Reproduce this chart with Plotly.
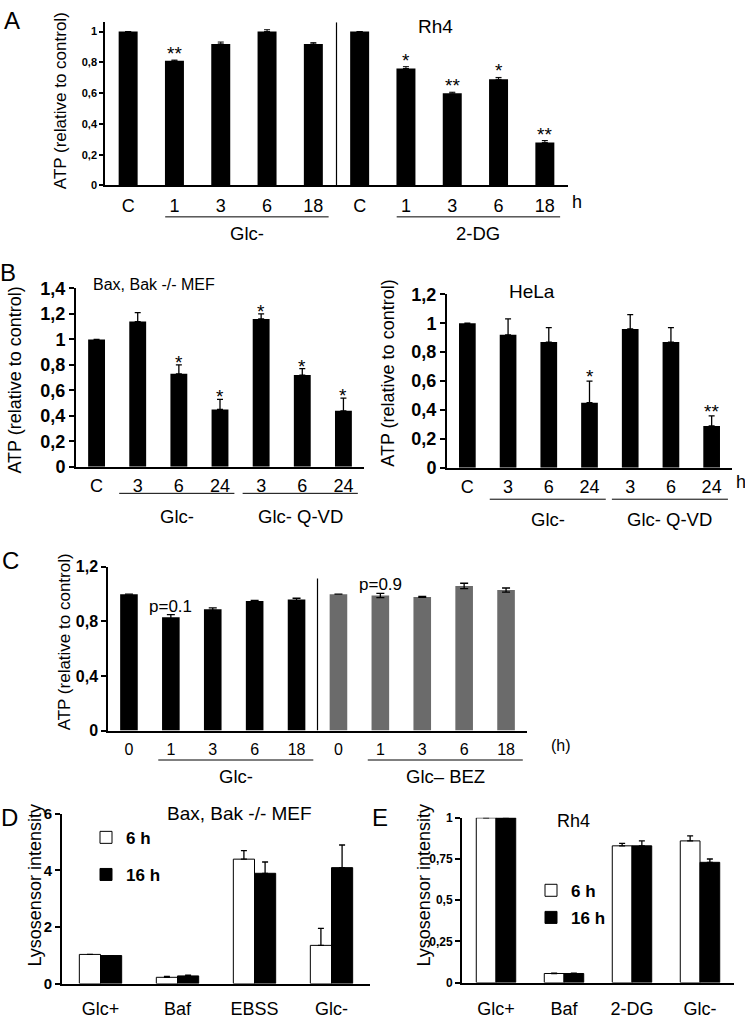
import plotly.graph_objects as go

FONT = "Liberation Sans, Arial, Helvetica, sans-serif"
W, H = 745, 1020

# ---------------- data ----------------
# Panel A (Rh4)
a_labels = ["C", "1", "3", "6", "18", "C", "1", "3", "6", "18"]
a_values = [1.0, 0.81, 0.92, 1.0, 0.92, 1.0, 0.76, 0.60, 0.69, 0.28]
a_errors = [0, 0.005, 0.012, 0.012, 0.008, 0, 0.012, 0.006, 0.012, 0.012]
a_stars = ["", "**", "", "", "", "", "*", "**", "*", "**"]
a_group_names = ["Glc-", "2-DG"]
a_group_first = [1, 6]
a_group_last = [4, 9]

# Panel B left (Bax, Bak -/- MEF)
b_labels = ["C", "3", "6", "24", "3", "6", "24"]
bl_values = [1.0, 1.14, 0.73, 0.45, 1.16, 0.72, 0.44]
bl_errors = [0, 0.07, 0.07, 0.08, 0.04, 0.05, 0.10]
bl_stars = ["", "", "*", "*", "*", "*", "*"]

# Panel B right (HeLa)
br_values = [1.0, 0.92, 0.87, 0.45, 0.96, 0.87, 0.29]
br_errors = [0, 0.11, 0.10, 0.15, 0.10, 0.10, 0.07]
br_stars = ["", "", "", "*", "", "", "**"]
b_group_names = ["Glc-", "Glc- Q-VD"]
b_group_first = [1, 4]
b_group_last = [3, 6]

# Panel C
c_labels = ["0", "1", "3", "6", "18", "0", "1", "3", "6", "18"]
c_values = [1.0, 0.83, 0.89, 0.95, 0.96, 1.0, 0.99, 0.98, 1.06, 1.03]
c_errors = [None, 0.02, 0.01, 0.005, 0.01, None, 0.015, 0.003, 0.02, 0.015]
c_group_names = ["Glc-", "Glc\u2013 BEZ"]
c_group_first = [1, 6]
c_group_last = [4, 9]
c_pvalues = ["p=0.1", "p=0.9"]
c_pvalue_at = [1, 6]

# Panel D
d_cats = ["Glc+", "Baf", "EBSS", "Glc-"]
d_6h = [1.03, 0.22, 4.40, 1.35]
d_6h_err = [0, 0.03, 0.30, 0.60]
d_16h = [0.99, 0.27, 3.90, 4.10]
d_16h_err = [0, 0.03, 0.40, 0.80]

# Panel E
e_cats = ["Glc+", "Baf", "2-DG", "Glc-"]
e_6h = [1.0, 0.055, 0.83, 0.86]
e_6h_err = [0, 0.002, 0.015, 0.03]
e_16h = [1.0, 0.055, 0.83, 0.73]
e_16h_err = [0, 0.002, 0.03, 0.02]

# ---------------- helpers ----------------
def xdom(l, r):
    return [l / W, r / W]

def ydom(bottom, top):
    return [1 - bottom / H, 1 - top / H]

def py(p):
    return 1 - p / H

def pxx(p):
    return p / W

BLACK = "black"
GRAY = "#6b6b6b"

fig = go.Figure()

def ebar(arr, sym=False, width=3, thick=1):
    d = dict(type="data", array=arr, color=BLACK, thickness=thick, width=width, visible=True)
    if not sym:
        d["symmetric"] = False
        d["arrayminus"] = [0] * len(arr)
    return d

# A
fig.add_trace(go.Bar(x=list(range(len(a_labels))), y=a_values, width=0.41,
                     marker=dict(color=BLACK, line=dict(width=0)),
                     error_y=ebar(a_errors, width=3), xaxis="x", yaxis="y", showlegend=False))
# B left
fig.add_trace(go.Bar(x=list(range(len(b_labels))), y=bl_values, width=0.41,
                     marker=dict(color=BLACK, line=dict(width=0)),
                     error_y=ebar(bl_errors, width=3, thick=1.3), xaxis="x2", yaxis="y2", showlegend=False))
# B right
fig.add_trace(go.Bar(x=list(range(len(b_labels))), y=br_values, width=0.41,
                     marker=dict(color=BLACK, line=dict(width=0)),
                     error_y=ebar(br_errors, width=3, thick=1.3), xaxis="x3", yaxis="y3", showlegend=False))
# C
c_colors = [BLACK] * 5 + [GRAY] * 5
fig.add_trace(go.Bar(x=list(range(len(c_labels))), y=c_values, width=0.42,
                     marker=dict(color=c_colors, line=dict(width=0)),
                     error_y=ebar(c_errors, sym=True, width=4, thick=1.3), xaxis="x4", yaxis="y4", showlegend=False))
# D
fig.add_trace(go.Bar(x=list(range(len(d_cats))), y=d_6h, width=0.275, offset=-0.275, name="6 h",
                     marker=dict(color="white", line=dict(color=BLACK, width=1)),
                     error_y=ebar(d_6h_err, width=3, thick=1.3), xaxis="x5", yaxis="y5",
                     legend="legend", legendgroup="d6"))
fig.add_trace(go.Bar(x=list(range(len(d_cats))), y=d_16h, width=0.275, offset=0, name="16 h",
                     marker=dict(color=BLACK, line=dict(color=BLACK, width=1)),
                     error_y=ebar(d_16h_err, width=3, thick=1.3), xaxis="x5", yaxis="y5",
                     legend="legend", legendgroup="d16"))
# E
fig.add_trace(go.Bar(x=list(range(len(e_cats))), y=e_6h, width=0.29, offset=-0.29, name="6 h",
                     marker=dict(color="white", line=dict(color=BLACK, width=1)),
                     error_y=ebar(e_6h_err, width=3, thick=1.3), xaxis="x6", yaxis="y6",
                     legend="legend2", legendgroup="e6"))
fig.add_trace(go.Bar(x=list(range(len(e_cats))), y=e_16h, width=0.29, offset=0, name="16 h",
                     marker=dict(color=BLACK, line=dict(color=BLACK, width=1)),
                     error_y=ebar(e_16h_err, width=3, thick=1.3), xaxis="x6", yaxis="y6",
                     legend="legend2", legendgroup="e16"))

def xaxis(dom, n, labels, yanchor, size, lw=1.5, gap=0):
    # invisible outside ticks are used only to push the tick labels down
    return dict(domain=dom, range=[-0.5, n - 0.5], anchor=yanchor, showgrid=False, zeroline=False,
                showline=True, linecolor=BLACK, linewidth=lw,
                ticks="outside", ticklen=gap, tickcolor="rgba(0,0,0,0)",
                tickmode="array", tickvals=list(range(n)), ticktext=labels,
                tickfont=dict(family=FONT, size=size, color=BLACK),
                fixedrange=True)

def yaxis(dom, rng, dtick, xanchor, size, bold, lw=1.5, ticklen=5):
    return dict(domain=dom, range=list(rng), anchor=xanchor, showgrid=False, zeroline=False,
                showline=True, linecolor=BLACK, linewidth=lw, ticks="outside", ticklen=ticklen,
                tickwidth=lw, tickcolor=BLACK, dtick=dtick, tick0=0,
                tickfont=dict(family=FONT, size=size, color=BLACK, weight="bold" if bold else "normal"),
                fixedrange=True)

layout = dict(
    width=W, height=H, margin=dict(l=0, r=0, t=0, b=0),
    paper_bgcolor="white", plot_bgcolor="rgba(0,0,0,0)",
    separators=",.", barmode="overlay", showlegend=True,
    font=dict(family=FONT, color=BLACK),
    xaxis=xaxis(xdom(105, 568), len(a_labels), a_labels, "y", 18, lw=1.5, gap=3),
    yaxis=yaxis(ydom(179, 12.6), (0, 1.06), 0.2, "x", 11, True, lw=1.5, ticklen=4),
    xaxis2=xaxis(xdom(76, 364), len(b_labels), b_labels, "y2", 18, lw=2, gap=2),
    yaxis2=yaxis(ydom(466, 284), (0, 1.4), 0.2, "x2", 18, True, lw=2),
    xaxis3=xaxis(xdom(447, 732), len(b_labels), b_labels, "y3", 18, lw=2, gap=2),
    yaxis3=yaxis(ydom(467, 290), (0, 1.2), 0.2, "x3", 18, True, lw=2),
    xaxis4=xaxis(xdom(108, 527), len(c_labels), c_labels, "y4", 16, lw=1.5, gap=3),
    yaxis4=yaxis(ydom(735, 568), (0, 1.2), 0.4, "x4", 16, True, lw=1.5),
    xaxis5=xaxis(xdom(62, 370), len(d_cats), d_cats, "y5", 18, lw=2, gap=8),
    yaxis5=yaxis(ydom(993, 820), (0, 6), 2, "x5", 15, True, lw=2),
    xaxis6=xaxis(xdom(462, 734), len(e_cats), e_cats, "y6", 18, lw=2, gap=9),
    yaxis6=yaxis(ydom(992, 824), (0, 1), 0.25, "x6", 12, True, lw=2),
    legend=dict(x=pxx(86), y=py(826), xanchor="left", yanchor="top", bgcolor="rgba(0,0,0,0)",
                font=dict(family=FONT, size=17, color=BLACK, weight="bold"), tracegroupgap=12,
                itemclick=False, itemdoubleclick=False),
    legend2=dict(x=pxx(531), y=py(880), xanchor="left", yanchor="top", bgcolor="rgba(0,0,0,0)",
                 font=dict(family=FONT, size=17, color=BLACK, weight="bold"), tracegroupgap=2,
                 itemclick=False, itemdoubleclick=False),
)
fig.update_layout(**layout)

annotations = []
shapes = []

def txt(x, y, text, size, xref="paper", yref="paper", xanchor="center", yanchor="middle",
        angle=0, bold=False, yshift=0):
    annotations.append(dict(x=x, y=y, xref=xref, yref=yref, text=text, showarrow=False,
                            xanchor=xanchor, yanchor=yanchor, textangle=angle, yshift=yshift,
                            font=dict(family=FONT, size=size, color=BLACK,
                                      weight="bold" if bold else "normal")))

# panel letters
txt(pxx(12), py(11), "A", 24)
txt(pxx(8), py(268), "B", 24)
txt(pxx(10), py(562), "C", 24)
txt(pxx(9), py(824), "D", 24)
txt(pxx(380), py(824), "E", 24)

# y axis titles
txt(pxx(60), py(92), "ATP (relative to control)", 17, angle=-90)
txt(pxx(15), py(378), "ATP (relative to control)", 18, angle=-90)
txt(pxx(388), py(370), "ATP (relative to control)", 18, angle=-90)
txt(pxx(64), py(645), "ATP (relative to control)", 17, angle=-90)
txt(pxx(35), py(893), "Lysosensor intensity", 18, angle=-90)
txt(pxx(424), py(893), "Lysosensor intensity", 18, angle=-90)

# panel titles
txt(pxx(435), py(17), "Rh4", 19)
txt(pxx(154), py(280), "Bax, Bak -/- MEF", 16)
txt(pxx(532), py(287), "HeLa", 19)
txt(pxx(240), py(820), "Bax, Bak -/- MEF", 19)
txt(pxx(573), py(827), "Rh4", 18)

# hour unit labels
txt(pxx(570), py(196), "h", 18, xanchor="left")
txt(pxx(734), py(481), "h", 18, xanchor="left")
txt(pxx(549), py(750), "(h)", 16, xanchor="left")

# significance stars
def stars(vals, errs, marks, xr, yr, size=19, shift=-6):
    for i, (v, e, m) in enumerate(zip(vals, errs, marks)):
        if m:
            top = v + (e or 0)
            annotations.append(dict(x=i, y=top, xref=xr, yref=yr, text=m, showarrow=False,
                                    xanchor="center", yanchor="bottom", yshift=shift,
                                    font=dict(family=FONT, size=size, color=BLACK)))

stars(a_values, a_errors, a_stars, "x", "y", shift=-6)
stars(bl_values, bl_errors, bl_stars, "x2", "y2", shift=-10)
stars(br_values, br_errors, br_stars, "x3", "y3", shift=-8)

# p values in C
for lab, i in zip(c_pvalues, c_pvalue_at):
    annotations.append(dict(x=i, y=c_values[i] + (c_errors[i] or 0), xref="x4", yref="y4", text=lab,
                            showarrow=False, xanchor="center", yanchor="bottom", yshift=-3,
                            font=dict(family=FONT, size=17, color=BLACK)))

# group brackets
def groups(names, firsts, lasts, xr, line_y, label_y, lpad, rpad, size):
    for nm, f, l in zip(names, firsts, lasts):
        x0, x1 = f - lpad, l + rpad
        shapes.append(dict(type="line", xref=xr, yref="paper", x0=x0, x1=x1, y0=py(line_y), y1=py(line_y),
                           line=dict(color=BLACK, width=1)))
        annotations.append(dict(x=(x0 + x1) / 2, y=py(label_y), xref=xr, yref="paper", text=nm,
                                showarrow=False, xanchor="center", yanchor="middle",
                                font=dict(family=FONT, size=size, color=BLACK)))

groups(a_group_names, a_group_first, a_group_last, "x", 211, 228, 0.2, 0.33, 18.5)
groups(b_group_names, b_group_first, b_group_last, "x2", 493, 517, 0.45, 0.35, 18.5)
groups(b_group_names, b_group_first, b_group_last, "x3", 499, 520, 0.45, 0.4, 18.5)
groups(c_group_names, c_group_first, c_group_last, "x4", 765, 782, 0.3, 0.4, 18.5)

# separators
shapes.append(dict(type="line", xref="x", yref="y", x0=4.5, x1=4.5, y0=0, y1=1.06,
                   line=dict(color=BLACK, width=1.2)))
shapes.append(dict(type="line", xref="x4", yref="y4", x0=4.5, x1=4.5, y0=0, y1=1.115,
                   line=dict(color=BLACK, width=1.2)))

fig.update_layout(annotations=annotations, shapes=shapes)
fig.write_html("out.html", config={"displayModeBar": False},
               post_script="document.body.style.margin='0';")
